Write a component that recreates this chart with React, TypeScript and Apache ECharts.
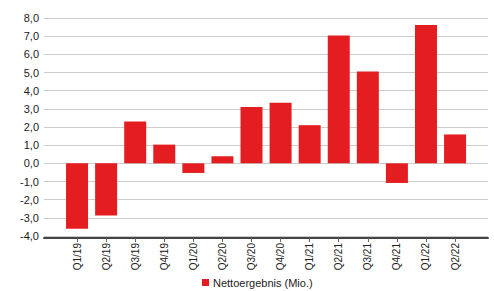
import React, { useEffect, useRef } from "react";
import * as echarts from "echarts";

const categories = ["Q1/19", "Q2/19", "Q3/19", "Q4/19", "Q1/20", "Q2/20", "Q3/20", "Q4/20", "Q1/21", "Q2/21", "Q3/21", "Q4/21", "Q1/22", "Q2/22"];
const netResult = [-3.6, -2.87, 2.3, 1.03, -0.53, 0.39, 3.1, 3.34, 2.1, 7.04, 5.05, -1.08, 7.62, 1.59];
const seriesName = "Nettoergebnis (Mio.)";
const yMin = -4;
const yMax = 8;
const yInterval = 1;

const FONT = "'Liberation Sans', Arial, sans-serif";

export default function App() {
  const ref = useRef<HTMLDivElement>(null);
  useEffect(() => {
    if (!ref.current) return;
    const chart = echarts.init(ref.current, undefined, { renderer: "svg" });
    const top = 18;
    const bottom = 55;
    chart.setOption({
      animation: false,
      textStyle: { fontFamily: FONT },
      legend: {
        data: [seriesName],
        left: 202,
        top: 277,
        icon: "rect",
        itemWidth: 7,
        itemHeight: 7,
        itemGap: 5,
        padding: 0,
        textStyle: { fontFamily: FONT, fontSize: 11, color: "#222", padding: [0, 0, 0, -1] },
      },
      grid: [
        { left: 44, right: 6, top, bottom, containLabel: false },
        { left: 62.5, right: 24.4, top, bottom, containLabel: false },
      ],
      xAxis: [
        {
          gridIndex: 0,
          type: "category",
          data: [""],
          offset: 2,
          axisLine: { show: true, onZero: false, lineStyle: { color: "#444", width: 2 } },
          axisTick: { show: false },
          axisLabel: { show: false },
          splitLine: { show: false },
        },
        {
          gridIndex: 1,
          type: "category",
          data: categories,
          offset: 2,
          axisLine: { show: false, onZero: false },
          axisTick: { show: true, alignWithLabel: true, length: 4, lineStyle: { color: "#666" } },
          axisLabel: { rotate: 90, fontSize: 10, color: "#222", fontFamily: FONT, margin: 5 },
          splitLine: { show: false },
        },
      ],
      yAxis: [
        {
          gridIndex: 0,
          type: "value",
          min: yMin,
          max: yMax,
          interval: yInterval,
          axisLine: { show: false },
          axisTick: { show: false },
          axisLabel: {
            fontSize: 11,
            color: "#222",
            fontFamily: FONT,
            margin: 5,
            formatter: (v: number) => v.toFixed(1).replace(".", ","),
          },
          splitLine: { show: true, lineStyle: { color: "#cccccc", width: 1 } },
        },
        {
          gridIndex: 1,
          type: "value",
          min: yMin,
          max: yMax,
          interval: yInterval,
          axisLine: { show: false },
          axisTick: { show: false },
          axisLabel: { show: false },
          splitLine: { show: false },
        },
      ],
      series: [
        {
          name: seriesName,
          type: "bar",
          xAxisIndex: 1,
          yAxisIndex: 1,
          data: netResult,
          barWidth: 22,
          itemStyle: { color: "#e41e20" },
        },
      ],
    });
    return () => chart.dispose();
  }, []);
  return (
    <div
      ref={ref}
      style={{ position: "fixed", left: 0, top: 0, width: 494, height: 291, background: "#fff" }}
    />
  );
}
